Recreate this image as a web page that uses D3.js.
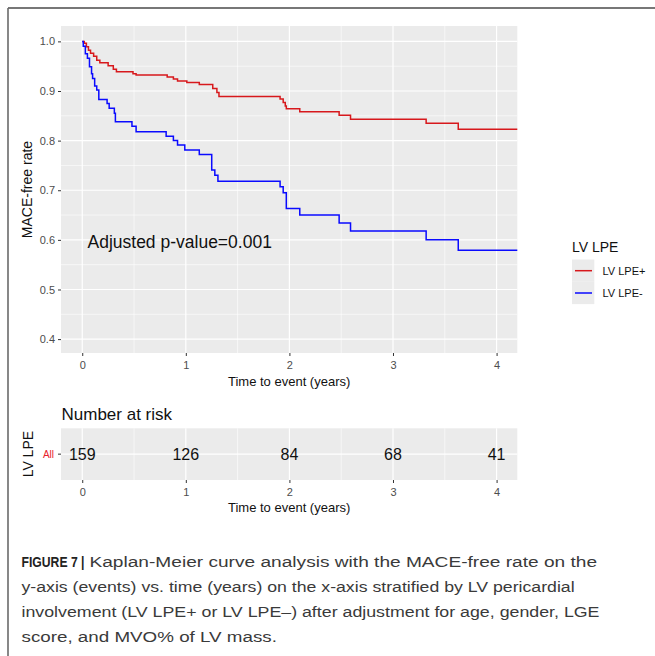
<!DOCTYPE html>
<html>
<head>
<meta charset="utf-8">
<script src="https://cdn.jsdelivr.net/npm/d3@7"></script>
<style>
html, body { margin: 0; padding: 0; background: #fff; }
svg { display: block; }
</style>
</head>
<body>
<div id="chart"></div>
<script>
var W = 655, H = 656;

// Kaplan-Meier steps: [time (years), survival]
var lpePlus = [[0,1],[0.02,0.996],[0.04,0.989],[0.06,0.982],[0.08,0.976],[0.11,0.970],[0.14,0.962],
	[0.17,0.957],[0.25,0.951],[0.30,0.944],[0.33,0.939],[0.49,0.935],[0.52,0.932],[0.82,0.928],
	[0.88,0.924],[0.92,0.920],[1.01,0.917],[1.13,0.913],[1.26,0.905],[1.30,0.897],[1.32,0.889],
	[1.91,0.884],[1.94,0.877],[1.96,0.870],[1.97,0.864],[2.10,0.858],[2.48,0.851],[2.59,0.843],
	[3.32,0.835],[3.63,0.823],[4.2,0.823]];
var lpeMinus = [[0,1],[0.01,0.99],[0.03,0.975],[0.05,0.966],[0.07,0.949],[0.09,0.935],[0.10,0.925],
	[0.12,0.910],[0.14,0.902],[0.16,0.883],[0.24,0.875],[0.26,0.865],[0.31,0.855],[0.32,0.838],
	[0.48,0.829],[0.52,0.818],[0.81,0.809],[0.88,0.800],[0.92,0.791],[0.99,0.781],[1.13,0.772],
	[1.25,0.741],[1.28,0.730],[1.31,0.718],[1.91,0.707],[1.94,0.695],[1.97,0.663],[2.10,0.650],
	[2.48,0.634],[2.59,0.618],[3.32,0.600],[3.63,0.579],[4.2,0.579]];

var groups = ["LV LPE+", "LV LPE-"];
var groupColors = ["#d7181c", "#0a0aff"];
var xTicks = [0, 1, 2, 3, 4];
var yTicks = [0.4, 0.5, 0.6, 0.7, 0.8, 0.9, 1.0];
var riskTimes = [0, 1, 2, 3, 4];
var riskCounts = [159, 126, 84, 68, 41];
var caption = [
	"y-axis (events) vs. time (years) on the x-axis stratified by LV pericardial",
	"involvement (LV LPE+ or LV LPE\u2013) after adjustment for age, gender, LGE",
	"score, and MVO% of LV mass."
];

var font = "Arial, 'Liberation Sans', Helvetica, sans-serif";
var grey = "#4d4d4d";

var svg = d3.select("#chart").append("svg")
	.attr("width", W)
	.attr("height", H);

// outer frame (top and left edges visible)
svg.append("line").attr("x1", 8).attr("y1", 8).attr("x2", W).attr("y2", 8)
	.attr("stroke", "#4a4a4a").attr("stroke-width", 1.6);
svg.append("line").attr("x1", 8).attr("y1", 8).attr("x2", 8).attr("y2", H)
	.attr("stroke", "#6a6a6a").attr("stroke-width", 1.6);

var x = d3.scaleLinear().domain([-0.205, 4.2]).range([61, 517.3]);
var y = d3.scaleLinear().domain([0.372, 1.031]).range([353, 26]);

// ---- main panel ----
var g = svg.append("g");
g.append("rect")
	.attr("x", x.range()[0]).attr("y", 26)
	.attr("width", x.range()[1] - x.range()[0]).attr("height", 327)
	.attr("fill", "#ebebeb");

var xMinor = xTicks.map(d => d + 0.5).filter(d => d < x.domain()[1]);
var yMinor = yTicks.slice(0, -1).map(d => d + 0.05);

g.selectAll(".xminor").data(xMinor).enter().append("line")
	.attr("x1", d => x(d)).attr("x2", d => x(d)).attr("y1", 26).attr("y2", 353)
	.attr("stroke", "#fff").attr("stroke-width", 0.6);
g.selectAll(".yminor").data(yMinor).enter().append("line")
	.attr("x1", 61).attr("x2", 517.3).attr("y1", d => y(d)).attr("y2", d => y(d))
	.attr("stroke", "#fff").attr("stroke-width", 0.6);
g.selectAll(".xmajor").data(xTicks).enter().append("line")
	.attr("x1", d => x(d)).attr("x2", d => x(d)).attr("y1", 26).attr("y2", 353)
	.attr("stroke", "#fff").attr("stroke-width", 1.2);
g.selectAll(".ymajor").data(yTicks).enter().append("line")
	.attr("x1", 61).attr("x2", 517.3).attr("y1", d => y(d)).attr("y2", d => y(d))
	.attr("stroke", "#fff").attr("stroke-width", 1.2);

var yAxis = g.append("g").attr("transform", "translate(61,0)")
	.call(d3.axisLeft(y).tickValues(yTicks).tickFormat(d3.format(".1f")).tickSize(3).tickPadding(3));
var xAxis = g.append("g").attr("transform", "translate(0,353)")
	.call(d3.axisBottom(x).tickValues(xTicks).tickFormat(d3.format("d")).tickSize(3).tickPadding(5));
[yAxis, xAxis].forEach(function(a) {
	a.select(".domain").remove();
	a.selectAll("line").attr("stroke", "#333").attr("stroke-width", 1);
	a.selectAll("text").attr("fill", grey).style("font-family", font).style("font-size", "11px");
});

var line = d3.line()
	.x(d => x(d[0]))
	.y(d => y(d[1]))
	.curve(d3.curveStepAfter);

g.selectAll(".km").data([lpePlus, lpeMinus]).enter().append("path")
	.attr("d", line)
	.attr("fill", "none")
	.attr("stroke", (d, i) => groupColors[i])
	.attr("stroke-width", 1.5);

g.append("text")
	.attr("x", 87.5).attr("y", 247.5)
	.style("font-family", font).style("font-size", "17.5px")
	.attr("fill", "#111")
	.text("Adjusted p-value=0.001");

g.append("text")
	.attr("transform", "translate(32," + ((26 + 353) / 2) + ") rotate(-90)")
	.attr("text-anchor", "middle")
	.style("font-family", font).style("font-size", "14px")
	.attr("fill", "#111")
	.text("MACE-free rate");
g.append("text")
	.attr("x", (61 + 517.3) / 2).attr("y", 386)
	.attr("text-anchor", "middle")
	.style("font-family", font).style("font-size", "13px")
	.attr("fill", "#111")
	.text("Time to event (years)");

// legend
var leg = svg.append("g").attr("transform", "translate(572,0)");
leg.append("text").attr("x", 0).attr("y", 252)
	.style("font-family", font).style("font-size", "14px").attr("fill", "#111")
	.text("LV LPE");
groups.forEach(function(name, i) {
	var top = 259.5 + i * 22.3;
	leg.append("rect").attr("x", 0).attr("y", top).attr("width", 22.3).attr("height", 22.3)
		.attr("fill", "#ebebeb");
	leg.append("line").attr("x1", 3).attr("x2", 20).attr("y1", top + 11.2).attr("y2", top + 11.2)
		.attr("stroke", groupColors[i]).attr("stroke-width", 1.5);
	leg.append("text").attr("x", 30.5).attr("y", top + 15)
		.style("font-family", font).style("font-size", "11px").attr("fill", "#111")
		.text(name);
});

// ---- risk table ----
var rTop = 428.3, rBot = 480;
var r = svg.append("g");
r.append("text").attr("x", 61.5).attr("y", 419.5)
	.style("font-family", font).style("font-size", "17px").attr("fill", "#111")
	.text("Number at risk");
r.append("rect")
	.attr("x", x.range()[0]).attr("y", rTop)
	.attr("width", x.range()[1] - x.range()[0]).attr("height", rBot - rTop)
	.attr("fill", "#ebebeb");
r.selectAll(".rminor").data(xMinor).enter().append("line")
	.attr("x1", d => x(d)).attr("x2", d => x(d)).attr("y1", rTop).attr("y2", rBot)
	.attr("stroke", "#fff").attr("stroke-width", 0.6);
r.selectAll(".rmajor").data(xTicks).enter().append("line")
	.attr("x1", d => x(d)).attr("x2", d => x(d)).attr("y1", rTop).attr("y2", rBot)
	.attr("stroke", "#fff").attr("stroke-width", 1.2);
var rMid = (rTop + rBot) / 2;
r.append("line").attr("x1", 61).attr("x2", 517.3).attr("y1", rMid).attr("y2", rMid)
	.attr("stroke", "#fff").attr("stroke-width", 1.2);
r.append("line").attr("x1", 58).attr("x2", 61).attr("y1", rMid).attr("y2", rMid)
	.attr("stroke", "#333");
r.append("text").attr("x", 54).attr("y", rMid + 3.5).attr("text-anchor", "end")
	.style("font-family", font).style("font-size", "10px").attr("fill", "#e8202a")
	.text("All");
r.selectAll(".cnt").data(riskCounts).enter().append("text")
	.attr("x", (d, i) => x(riskTimes[i])).attr("y", rMid + 6)
	.attr("text-anchor", "middle")
	.style("font-family", font).style("font-size", "16px").attr("fill", "#111")
	.text(d => d);
var rAxis = r.append("g").attr("transform", "translate(0," + rBot + ")")
	.call(d3.axisBottom(x).tickValues(xTicks).tickFormat(d3.format("d")).tickSize(3).tickPadding(5));
rAxis.select(".domain").remove();
rAxis.selectAll("line").attr("stroke", "#333");
rAxis.selectAll("text").attr("fill", grey).style("font-family", font).style("font-size", "11px");
r.append("text")
	.attr("transform", "translate(33," + rMid + ") rotate(-90)")
	.attr("text-anchor", "middle")
	.style("font-family", font).style("font-size", "14px").attr("fill", "#111")
	.text("LV LPE");
r.append("text")
	.attr("x", (61 + 517.3) / 2).attr("y", 512)
	.attr("text-anchor", "middle")
	.style("font-family", font).style("font-size", "13px").attr("fill", "#111")
	.text("Time to event (years)");

// ---- caption ----
// the printed caption uses a condensed face, so each line is squeezed horizontally to its width
function fitText(sel, x0, y0, width) {
	var w = sel.node().getComputedTextLength();
	sel.attr("transform", "translate(" + x0 + "," + y0 + ") scale(" + (width / w) + ",1)");
}
var cap = svg.append("g").style("font-family", font).style("font-size", "15.5px");
var capBold = cap.append("text").attr("fill", "#222").style("font-weight", "bold")
	.text("FIGURE 7 |");
fitText(capBold, 21.5, 566.5, 63);
var capFirst = cap.append("text").attr("fill", "#3a3a3a")
	.text("Kaplan-Meier curve analysis with the MACE-free rate on the");
fitText(capFirst, 89.5, 566.5, 508);
var capEnds = [575, 600, 277];
cap.selectAll(".cl").data(caption).enter().append("text")
	.attr("fill", "#3a3a3a")
	.text(d => d)
	.each(function(d, i) { fitText(d3.select(this), 21.5, 592 + i * 25, capEnds[i] - 21.5); });
</script>
</body>
</html>
